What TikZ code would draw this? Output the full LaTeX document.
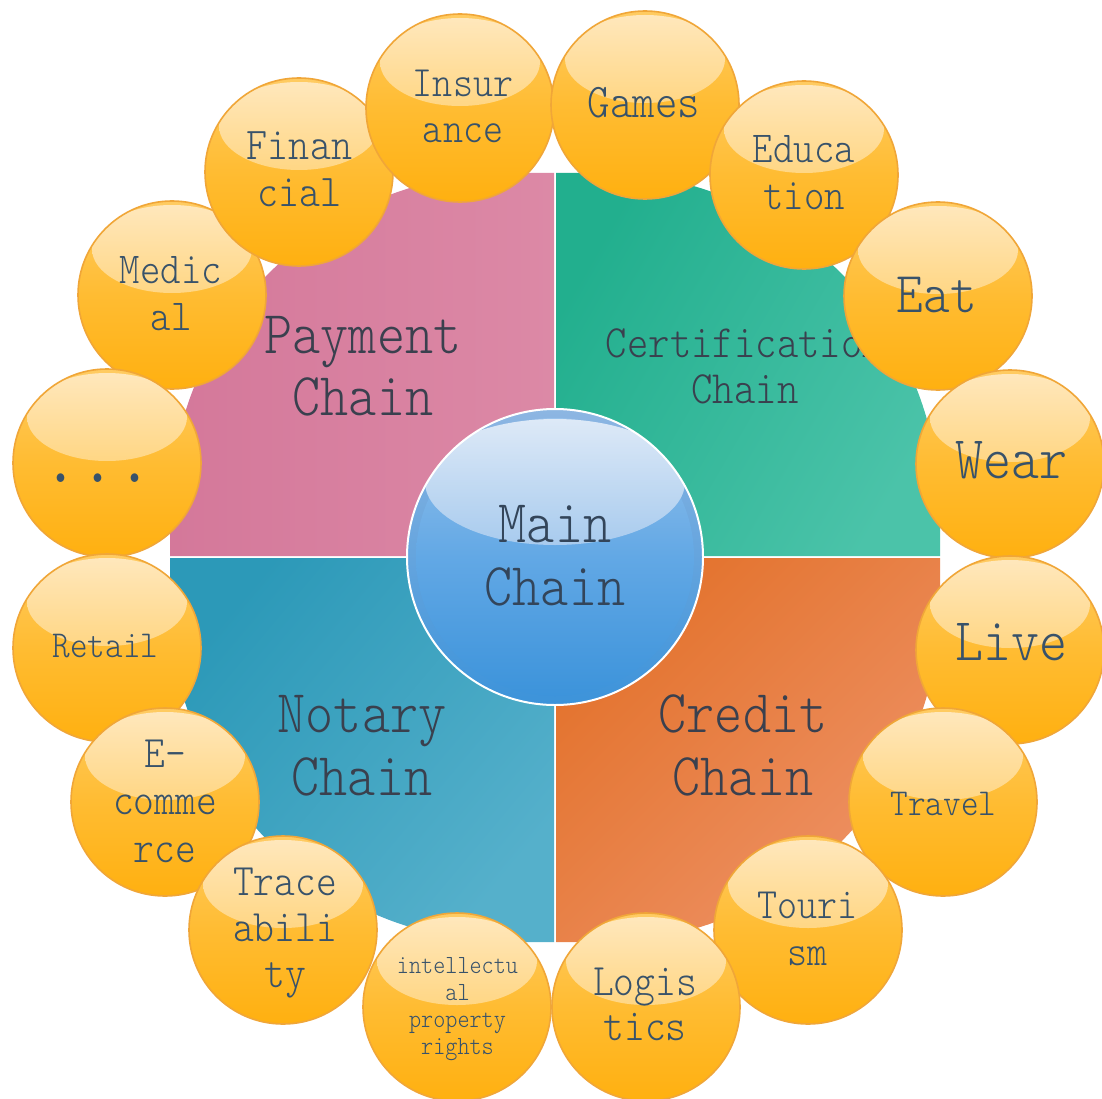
\documentclass[tikz,border=0pt]{standalone}
\usepackage{fontspec}
\newfontfamily\chainfont[FakeStretch=0.88]{lmmonolt10-regular.otf}
\definecolor{pinkA}{HTML}{D4789A}
\definecolor{pinkB}{HTML}{DC89A6}
\definecolor{tealA}{HTML}{22AF8E}
\definecolor{tealB}{HTML}{4BC3A9}
\definecolor{blueA}{HTML}{2C99B8}
\definecolor{blueB}{HTML}{55B0CB}
\definecolor{orgA}{HTML}{E3722C}
\definecolor{orgB}{HTML}{EE9266}
\definecolor{quadtext}{HTML}{3A404E}
\definecolor{balltext}{HTML}{38526A}
\definecolor{maintext}{HTML}{33455A}
\definecolor{ballrim}{HTML}{F0A638}
\definecolor{ballTop}{HTML}{FFCB62}
\definecolor{ballMid}{HTML}{FFBC32}
\definecolor{ballBot}{HTML}{FFB010}
\definecolor{hiTop}{HTML}{FFE8BE}
\definecolor{hiBot}{HTML}{FFC448}
\definecolor{mainRingTop}{HTML}{8DB6E2}
\definecolor{mainRingBot}{HTML}{3C93DA}
\definecolor{mainInTop}{HTML}{9CC4EC}
\definecolor{mainInMid}{HTML}{62A8E5}
\definecolor{mainInBot}{HTML}{3A92DA}
\definecolor{mainHiTop}{HTML}{DDE9F7}
\definecolor{mainHiBot}{HTML}{A8CBEE}
\begin{document}
\begin{tikzpicture}[x=1pt,y=-1pt,
  lbl/.style={inner sep=0pt, align=center},
  txtsize/.style 2 args={font=\chainfont\fontsize{#1}{#2}\selectfont},
  quadlbl/.style={lbl, text=quadtext},
  balllbl/.style={lbl, text=balltext},
  ball/.style={circle, inner sep=0pt, minimum size=188pt, draw=ballrim, line width=1.6pt,
    top color=ballTop, bottom color=ballBot, middle color=ballMid,
    path picture={\shade[top color=hiTop, bottom color=hiBot]
      ([yshift=46pt]path picture bounding box.center) ellipse [x radius=80pt, y radius=44pt];}},
  mainball/.style={circle, inner sep=0pt, minimum size=296pt, draw=white, line width=2pt,
    top color=mainRingTop, bottom color=mainRingBot,
    path picture={
      \shade[top color=mainInTop, bottom color=mainInBot, middle color=mainInMid]
        (path picture bounding box.center) circle (139pt);
      \shade[top color=mainHiTop, bottom color=mainHiBot]
        ([yshift=75pt]path picture bounding box.center) ellipse [x radius=130pt, y radius=63pt];}}
]
\useasboundingbox (0,0) rectangle (1102,1099);
\fill[white] (0,0) rectangle (1102,1099);

% quadrants
\shade[left color=pinkA, right color=pinkB]
  (554,556) -- (170,556) -- (170,513) .. controls (170,325.2) and (322.2,173) .. (510,173) -- (554,173) -- cycle;
\shade[left color=tealA, right color=tealB, shading angle=60]
  (556,173) -- (600,173) .. controls (787.8,173) and (940,325.2) .. (940,513) -- (940,556) -- (556,556) -- cycle;
\shade[left color=blueA, right color=blueB, shading angle=50]
  (170,558) -- (554,558) -- (554,942) -- (510,942) .. controls (322.2,942) and (170,789.8) .. (170,602) -- cycle;
\shade[left color=orgA, right color=orgB, shading angle=45]
  (556,558) -- (940,558) -- (940,602) .. controls (940,789.8) and (787.8,942) .. (600,942) -- (556,942) -- cycle;

% quadrant labels
\node[quadlbl, txtsize={60.8}{62}] (payT) at (363,371.6) {\strut Payment\\\strut Chain};
\node[quadlbl, txtsize={46.3}{46}] (certT) at (745,370.8) {\strut Certification\\\strut Chain};
\node[quadlbl, txtsize={60.8}{63}] (notT) at (362,750.9) {\strut Notary\\\strut Chain};
\node[quadlbl, txtsize={60.8}{63}] (credT) at (743,750.9) {\strut Credit\\\strut Chain};

% main circle
\node[mainball] (main) at (555,557) {};
\node[lbl, text=maintext, txtsize={60.8}{63}] (mainT) at (555,560.9) {\strut Main\\\strut Chain};

% outer circles
\node[ball] (med) at (172,295) {};
\node[balllbl, txtsize={44.2}{47}] (medT) at (171,297.1) {\strut Medic\\\strut al};
\node[ball] (fin) at (299,172) {};
\node[balllbl, txtsize={45.5}{47}] (finT) at (299.5,174.1) {\strut Finan\\\strut cial};
\node[ball] (ins) at (460,108) {};
\node[balllbl, txtsize={43.3}{46}] (insT) at (463,110.8) {\strut Insur\\\strut ance};
\node[ball] (gam) at (645,105) {};
\node[balllbl, txtsize={48.5}{52}] (gamT) at (644,107.6) {\strut Games};
\node[ball] (edu) at (804,175) {};
\node[balllbl, txtsize={44.2}{47}] (eduT) at (804,177.1) {\strut Educa\\\strut tion};
\node[ball] (eat) at (938,296) {};
\node[balllbl, txtsize={57.8}{62}] (eatT) at (937,299.6) {\strut Eat};
\node[ball] (wear) at (1010,464) {};
\node[balllbl, txtsize={60.6}{65}] (wearT) at (1011,465) {\strut Wear};
\node[ball] (live) at (1010,650) {};
\node[balllbl, txtsize={60.6}{65}] (liveT) at (1011,647) {\strut Live};
\node[ball] (trav) at (943,802) {};
\node[balllbl, txtsize={38.1}{41}] (travT) at (943.5,806.8) {\strut Travel};
\node[ball] (tour) at (808,930) {};
\node[balllbl, txtsize={43.3}{47}] (tourT) at (807,932.1) {\strut Touri\\\strut sm};
\node[ball] (logi) at (646,1007) {};
\node[balllbl, txtsize={45}{45}] (logiT) at (645,1008.5) {\strut Logis\\\strut tics};
\node[ball] (ipr) at (457,1007) {};
\node[balllbl, txtsize={26.2}{27.3}] (iprT) at (457.5,1008.5) {\strut intellectu\\\strut al\\\strut property\\\strut rights};
\node[ball] (dots) at (107,463) {};
\node[balllbl, txtsize={80}{86}] (dotsT) at (98,465) {\strut ...};
\node[ball] (ret) at (107,648) {};
\node[balllbl, txtsize={38.1}{41}] (retT) at (105.5,648.8) {\strut Retail};
\node[ball] (ecom) at (165,802) {};
\node[balllbl, txtsize={45}{47.5}] (ecomT) at (165,805) {\strut E-\\\strut comme\\\strut rce};
\node[ball] (trace) at (283,930) {};
\node[balllbl, txtsize={45}{46}] (traceT) at (285,931.8) {\strut Trace\\\strut abili\\\strut ty};
\end{tikzpicture}
\end{document}
